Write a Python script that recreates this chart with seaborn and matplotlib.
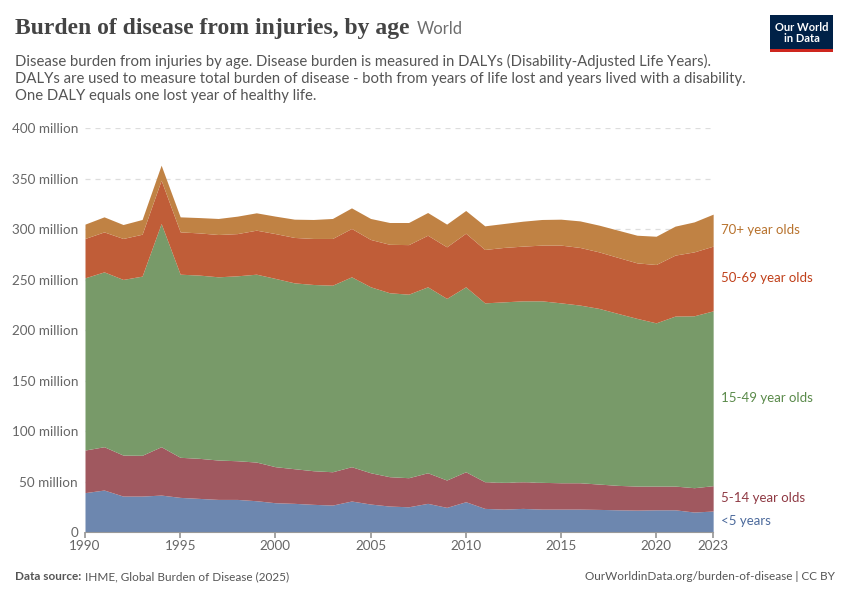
import numpy as np
import pandas as pd
import matplotlib
matplotlib.use("Agg")
import matplotlib.pyplot as plt
import seaborn as sns

# Datos (millones de DALYs)
years = list(range(1990, 2024))
under5 = [39.0, 41.6, 35.6, 35.6, 36.6, 34.3, 33.3, 32.3, 32.3, 31.0, 29.0, 28.4,
          27.4, 26.7, 30.7, 27.7, 25.7, 25.0, 28.4, 24.4, 30.0, 23.4, 22.7, 23.4,
          22.7, 22.7, 22.7, 22.4, 22.0, 21.7, 22.0, 22.0, 19.8, 20.8]
age5_14 = [42.2, 42.9, 40.6, 40.4, 47.9, 39.7, 39.7, 39.0, 38.3, 38.3, 35.7, 34.3,
           33.3, 33.0, 34.0, 31.0, 29.1, 28.8, 30.3, 27.1, 29.7, 26.4, 26.5, 26.4,
           26.5, 26.1, 26.1, 25.1, 24.2, 23.8, 23.5, 23.5, 24.1, 25.1]
age15_49 = [170.6, 173.2, 174.0, 177.5, 221.1, 181.4, 181.5, 181.5, 183.2, 186.1,
            186.5, 184.1, 184.5, 184.8, 188.1, 184.2, 182.2, 181.8, 184.2, 179.9,
            183.2, 177.2, 178.8, 179.2, 179.8, 178.2, 176.0, 174.0, 170.3, 166.1,
            161.7, 168.4, 170.3, 173.2]
age50_69 = [39.0, 39.6, 40.6, 41.5, 42.9, 41.9, 41.8, 41.9, 41.8, 43.6, 44.4, 45.0,
            45.6, 46.3, 47.9, 46.9, 48.0, 49.1, 51.1, 51.1, 53.1, 52.9, 53.9, 54.2,
            55.2, 57.2, 57.1, 56.0, 55.5, 55.0, 57.8, 60.4, 63.3, 64.1]
age70 = [14.2, 14.9, 13.8, 14.6, 14.9, 14.9, 15.2, 15.9, 17.3, 17.2, 17.3, 18.1,
         18.8, 19.8, 20.4, 20.8, 21.6, 21.9, 22.5, 22.5, 22.5, 23.4, 23.7, 24.7,
         25.4, 25.7, 26.3, 26.5, 27.0, 27.4, 28.0, 28.7, 29.7, 31.7]

series_names = ['<5 years', '5-14 year olds', '15-49 year olds', '50-69 year olds', '70+ year olds']
fill_colors = ['#6d87af', '#a0585f', '#789a69', '#c05d38', '#c08244']
label_colors = ['#4c6a9c', '#8f3a44', '#5a8a4a', '#c0401a', '#b8732e']

df = pd.DataFrame({'year': years, '<5 years': under5, '5-14 year olds': age5_14,
                   '15-49 year olds': age15_49, '50-69 year olds': age50_69,
                   '70+ year olds': age70})

sns.set_theme(style='white')
plt.rcParams['font.family'] = ['Lato', 'DejaVu Sans']

fig = plt.figure(figsize=(8.5, 6), dpi=100)
ax = fig.add_axes([0.1, 0.1133, 0.739, 0.673])

ax.stackplot(df['year'], [df[s] for s in series_names], colors=fill_colors,
             linewidth=0)

ax.set_xlim(1990, 2023)
ax.set_ylim(0, 400)
yticks = [0, 50, 100, 150, 200, 250, 300, 350, 400]
ax.set_yticks(yticks)
ax.set_yticklabels(['0'] + [f'{v} million' for v in yticks[1:]])
ax.set_xticks([1990, 1995, 2000, 2005, 2010, 2015, 2020, 2023])
ax.tick_params(axis='y', length=0, labelsize=9.7, labelcolor='#666666', pad=5)
ax.tick_params(axis='x', length=4, color='#999999', labelsize=9.7,
               labelcolor='#666666', pad=2, bottom=True)
for v in yticks[1:]:
    ax.axhline(v, color='#dddddd', linestyle=(0, (4, 4)), linewidth=0.9, zorder=0)
for side in ['top', 'right', 'left']:
    ax.spines[side].set_visible(False)
ax.spines['bottom'].set_color('#999999')
ax.spines['bottom'].set_linewidth(0.8)

# Etiquetas a la derecha, centradas en cada banda en 2023
cum = np.cumsum([df[s].values[-1] for s in series_names])
bottoms = np.concatenate([[0], cum[:-1]])
mids = (cum + bottoms) / 2
mids[0] += 1
for name, y, c in zip(series_names, mids, label_colors):
    ax.text(2023.4, y, name, color=c, fontsize=9.5, va='center', ha='left',
            clip_on=False)

# Título y subtítulo
title = fig.text(0.018, 0.943, 'Burden of disease from injuries, by age',
                 family='Liberation Serif', fontsize=17, weight='bold',
                 color='#444444', va='baseline')
fig.canvas.draw()
bb = title.get_window_extent()
fig.text((bb.x1 + 7) / fig.bbox.width, 0.943, 'World', fontsize=12,
         color='#6e6e6e', va='baseline')
subtitle = ('Disease burden from injuries by age. Disease burden is measured in DALYs (Disability-Adjusted Life Years).\n'
            'DALYs are used to measure total burden of disease - both from years of life lost and years lived with a disability.\n'
            'One DALY equals one lost year of healthy life.')
fig.text(0.018, 0.91, subtitle, fontsize=10.7, color='#555555', va='top',
         linespacing=1.25)

# Logo
fig.patches.append(plt.Rectangle((0.906, 0.913), 0.074, 0.062, transform=fig.transFigure,
                                 facecolor='#002147', edgecolor='none'))
fig.patches.append(plt.Rectangle((0.906, 0.913), 0.074, 0.005, transform=fig.transFigure,
                                 facecolor='#ce261e', edgecolor='none'))
fig.text(0.943, 0.945, 'Our World\nin Data', color='white', fontsize=8, ha='center',
         va='center', linespacing=1.05, weight='bold')

# Pie de página
fig.text(0.018, 0.033, 'Data source:', fontsize=8.5, color='#555555', weight='bold')
fig.text(0.1, 0.033, 'IHME, Global Burden of Disease (2025)', fontsize=8.5, color='#555555')
fig.text(0.982, 0.033, 'OurWorldinData.org/burden-of-disease | CC BY', fontsize=8.5,
         color='#555555', ha='right')

fig.savefig('out.png', dpi=100)
